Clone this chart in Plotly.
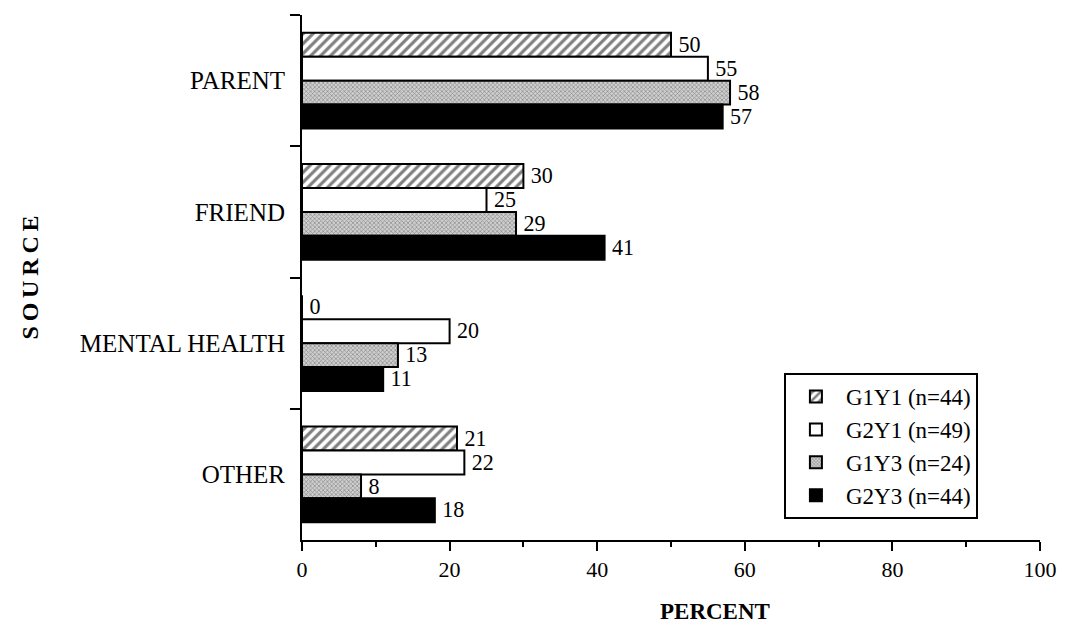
import plotly.graph_objects as go

categories = ["PARENT", "FRIEND", "MENTAL HEALTH", "OTHER"]
series_names = ["G1Y1 (n=44)", "G2Y1 (n=49)", "G1Y3 (n=24)", "G2Y3 (n=44)"]
g1y1 = [50, 30, 0, 21]
g2y1 = [55, 25, 20, 22]
g1y3 = [58, 29, 13, 8]
g2y3 = [57, 41, 11, 18]
x_ticks = [0, 20, 40, 60, 80, 100]

FONT = "Liberation Serif"

styles = [
    dict(color="white", pattern=dict(shape="/", fgcolor="black", bgcolor="white", size=7, solidity=0.45)),
    dict(color="white"),
    dict(color="white", pattern=dict(shape="x", fgcolor="#444444", bgcolor="#cfcfcf", size=3, solidity=0.4)),
    dict(color="black"),
]

fig = go.Figure()
for name, vals, st in zip(series_names, [g1y1, g2y1, g1y3, g2y3], styles):
    fig.add_trace(go.Bar(
        y=categories, x=vals, name=name, orientation="h",
        marker=dict(line=dict(color="black", width=2), **st),
        text=["\u2009" + str(v) for v in vals], textposition="outside",
        textfont=dict(family=FONT, size=23, color="black"),
        cliponaxis=False,
    ))

fig.update_layout(
    width=1069, height=629,
    margin=dict(l=302, r=24, t=15, b=89),
    paper_bgcolor="white", plot_bgcolor="white",
    barmode="group", bargap=0.27, bargroupgap=0.0,
    font=dict(family=FONT, size=22, color="black"),
    legend=dict(
        x=0.653, y=0.318, xanchor="left", yanchor="top",
        bordercolor="black", borderwidth=2, bgcolor="white",
        font=dict(family=FONT, size=23, color="black"),
        traceorder="normal", tracegroupgap=0, itemwidth=50,
    ),
    showlegend=True,
    annotations=[dict(
        text="<b>PERCENT</b>", xref="paper", yref="paper", x=0.559, y=-0.137,
        xanchor="center", yanchor="middle", showarrow=False,
        font=dict(family=FONT, size=23, color="black"),
    )],
)
fig.update_xaxes(
    range=[0, 100], tickvals=x_ticks, ticks="outside", ticklen=9, tickwidth=2,
    tickcolor="black", showline=True, linecolor="black", linewidth=2,
    showgrid=False, zeroline=False,
    minor=dict(tickvals=[10, 30, 50, 70, 90], ticks="outside", ticklen=5, tickwidth=2, tickcolor="black"),
    tickfont=dict(family=FONT, size=22),
)
fig.update_yaxes(
    categoryorder="array", categoryarray=categories, autorange="reversed",
    tickson="boundaries", ticks="outside", ticklen=10, tickwidth=2, tickcolor="black",
    showline=True, linecolor="black", linewidth=2, showgrid=False, zeroline=False,
    ticklabelstandoff=10,
    title=dict(text="<b>S\u2009O\u2009U\u2009R\u2009C\u2009E</b>", font=dict(family=FONT, size=24), standoff=34),
    tickfont=dict(family=FONT, size=25),
)

fig.write_html("out.html")
